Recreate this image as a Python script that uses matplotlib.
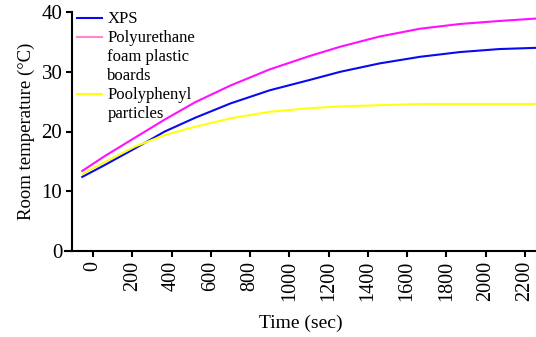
import matplotlib
matplotlib.use('Agg')
import matplotlib.pyplot as plt
from matplotlib.lines import Line2D

plt.rcParams['font.family'] = 'Liberation Serif'
plt.rcParams['font.size'] = 12

time = [-55, 60, 215, 365, 520, 700, 900, 1100, 1260, 1460, 1665, 1870, 2070, 2255]
xps = [12.4, 14.4, 17.2, 20.0, 22.3, 24.7, 26.9, 28.6, 30.0, 31.4, 32.5, 33.3, 33.8, 34.0]
polyurethane = [13.4, 15.9, 19.0, 22.0, 24.9, 27.7, 30.4, 32.6, 34.2, 35.9, 37.2, 38.0, 38.5, 38.9]
polyphenyl = [12.9, 14.9, 17.5, 19.4, 20.8, 22.2, 23.3, 23.9, 24.2, 24.4, 24.6, 24.6, 24.6, 24.6]
xticks = list(range(0, 2201, 200))

blue = '#0a0aee'
pink = '#ff10ff'
yellow = '#ffff10'

fig = plt.figure(figsize=(5.36, 3.37), dpi=100)
ax = fig.add_axes([65/536, 1 - 251/337, 471/536, 239/337])

ax.plot(time, xps, color=blue, lw=1.5)
ax.plot(time, polyurethane, color=pink, lw=1.5)
ax.plot(time, polyphenyl, color=yellow, lw=1.5)

ax.set_xlim(-143, 2256)
ax.set_ylim(0, 40)
ax.spines['top'].set_visible(False)
ax.spines['right'].set_visible(False)
ax.spines['left'].set_position(('data', -107))
ax.spines['left'].set_linewidth(1.5)
ax.spines['bottom'].set_linewidth(1.5)
ax.set_xticks(xticks)
ax.set_xticklabels([str(t) for t in xticks], rotation=90)
ax.set_yticks([0, 10, 20, 30, 40])
ax.tick_params(axis='both', width=1.5, length=4, pad=3)
ax.tick_params(axis='x', labelsize=14.5)
ax.tick_params(axis='y', labelsize=15)

ax.set_xlabel('Time (sec)', fontsize=14, labelpad=10)
ax.set_ylabel('Room temperature (°C)', fontsize=13.5, labelpad=5)

# legend: handle sits on the first line of each label
blank = Line2D([], [], color='none')
handles = [Line2D([], [], color=blue, lw=1.5),
           Line2D([], [], color='#ff88cc', lw=1.5), blank, blank,
           Line2D([], [], color=yellow, lw=1.5), blank]
labels = ['XPS', 'Polyurethane', 'foam plastic', 'boards',
          'Poolyphenyl', 'particles']
ax.legend(handles, labels, loc='upper left', bbox_to_anchor=(0.012, 1.03),
          frameon=False, handlelength=1.5, handletextpad=0.3,
          borderaxespad=0, labelspacing=0.18, fontsize=12)

fig.savefig('out.png', dpi=100)
